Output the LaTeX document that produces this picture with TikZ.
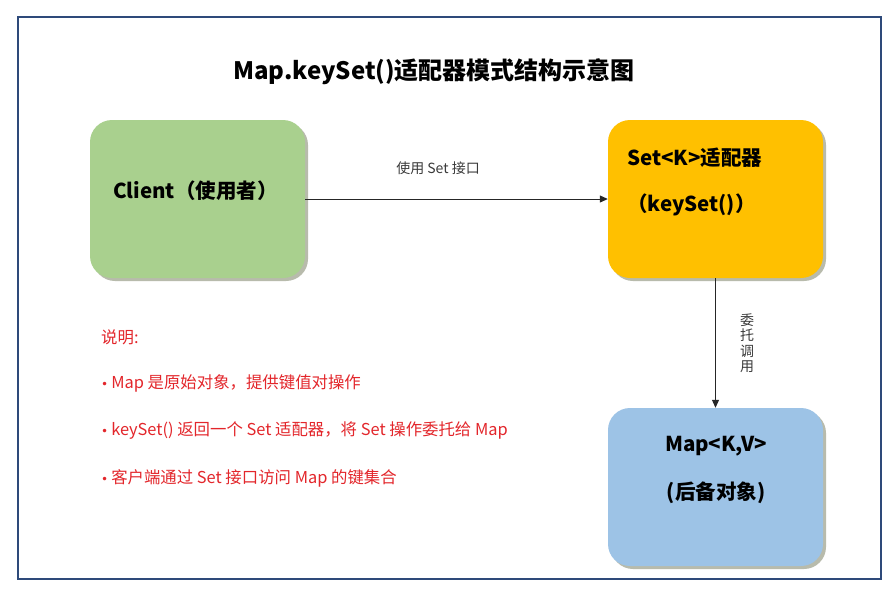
\documentclass[tikz,border=0pt]{standalone}
\usepackage{fontspec}
\newfontfamily\cjk{Noto Sans CJK SC}
\newfontfamily\dv{DejaVu Sans}
\usetikzlibrary{arrows.meta}
\definecolor{framecol}{HTML}{2E4A7A}
\definecolor{greenbox}{HTML}{A9D08E}
\definecolor{orangebox}{HTML}{FFC000}
\definecolor{bluebox}{HTML}{9DC3E6}
\definecolor{notered}{HTML}{E3262B}
\definecolor{labelgray}{HTML}{3A3A3A}
\definecolor{shadowcol}{HTML}{9A9F8A}
\newcommand{\bul}{{\dv\fontsize{12}{14}\selectfont •}\hspace{3pt}}
\tikzset{
  box/.style={rounded corners=22pt, minimum width=215pt, minimum height=158pt, inner sep=0pt, draw=none},
  boxshadow/.style={rounded corners=22pt, fill=shadowcol, opacity=0.7},
  boxtext/.style={font=\cjk\bfseries\fontsize{20.5}{24}\selectfont, inner sep=0pt, text=black},
  note/.style={font=\cjk\fontsize{16.4}{18}\selectfont, text=notered, anchor=west, inner sep=0pt},
  conn/.style={draw=black!85, line width=1pt, -{Triangle[length=8pt,width=7pt]}},
  lbl/.style={font=\cjk\fontsize{14}{16}\selectfont, text=labelgray, inner sep=0pt}
}
\begin{document}
\begin{tikzpicture}[x=1pt,y=-1pt]
\useasboundingbox (0,0) rectangle (885,590);
\fill[white] (0,0) rectangle (885,590);
\draw[framecol, line width=2pt] (18,17) rectangle (881,579);
% title
\node[font=\cjk\bfseries\fontsize{24}{27}\selectfont, inner sep=0pt] (title) at (434,72) {Map.keySet()适配器模式结构示意图};
% shadows
\fill[boxshadow] (93,123) rectangle (308,281);
\fill[boxshadow] (611,123) rectangle (826,281);
\fill[boxshadow] (611,411) rectangle (826,569);
% boxes
\node[box, fill=greenbox] (client) at (197.5,199) {};
\node[box, fill=orangebox] (set) at (715.5,199) {};
\node[box, fill=bluebox] (map) at (715.5,487) {};
% box texts
\node[boxtext, anchor=west] (clienttxt) at (113,191) {Client（使用者）};
\node[boxtext, anchor=west] (settxt1) at (627,158) {Set<K>适配器};
\node[boxtext, anchor=west] (settxt2) at (627,205) {（keySet()）};
\node[boxtext] (maptxt1) at (716,446) {Map<K,V>};
\node[boxtext] (maptxt2) at (716,493) {(后备对象)};
% connectors
\draw[conn] (client.east) -- (set.west);
\draw[conn] (set.south) -- (map.north);
\node[lbl] (uselbl) at (438,168) {使用 Set 接口};
\node[lbl, align=center, font=\cjk\fontsize{14}{15.5}\selectfont] (dellbl) at (747,343) {委\\托\\调\\用};
% notes
\node[note] (n0) at (101,337) {说明:};
\node[note] (n1) at (101,383) {\bul Map 是原始对象，提供键值对操作};
\node[note] (n2) at (101,431) {\bul keySet() 返回一个 Set 适配器，将 Set 操作委托给 Map};
\node[note] (n3) at (101,478) {\bul 客户端通过 Set 接口访问 Map 的键集合};
\end{tikzpicture}
\end{document}
